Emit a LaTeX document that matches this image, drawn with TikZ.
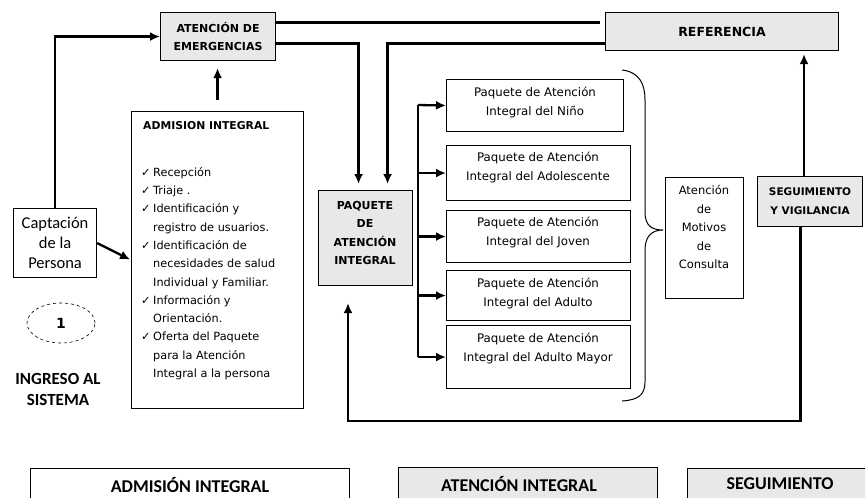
\documentclass[tikz,border=0pt]{standalone}
\usepackage{fontspec}
\setmainfont{DejaVu Sans}
\newfontfamily\calfont{Carlito}
\usetikzlibrary{arrows.meta,shapes.geometric}
\newcommand{\chkmk}{\makebox[12pt][l]{✓}}
\newcommand{\indnt}{\hspace*{12pt}}
\begin{document}
\begin{tikzpicture}[x=1pt,y=-1pt,
  box/.style={draw, line width=1.1pt, inner sep=0pt, anchor=north west, align=center},
  shadebox/.style={box, fill=black!9},
  conn/.style={line width=2.3pt},
  arr/.style={conn, -{Latex[length=10pt,width=9pt]}},
  pkt/.style={font=\fontsize{11.8}{19}\selectfont, align=center, inner sep=0pt},
  hdr/.style={font=\bfseries\fontsize{11}{17.5}\selectfont, align=center},
  big/.style={font=\calfont\bfseries\fontsize{18}{21}\selectfont, align=center, inner sep=0pt}
]
\useasboundingbox (0,0) rectangle (865,498);
\fill[white] (0,0) rectangle (865,498);

% top boxes
\node[shadebox, hdr, minimum width=115pt, minimum height=48pt] (emer) at (160,12) {ATENCIÓN DE\\EMERGENCIAS};
\node[shadebox, font=\bfseries\fontsize{12.5}{14}\selectfont, minimum width=233pt, minimum height=38pt] (ref) at (605,12) {REFERENCIA};

% admision
\node[box, minimum width=172pt, minimum height=297pt] (adm) at (131,111) {};
\node[anchor=west, inner sep=0pt, font=\bfseries\fontsize{10.8}{12}\selectfont] (admh) at (143,126) {ADMISION INTEGRAL};
\node[anchor=north west, align=left, inner sep=0pt, font=\fontsize{11.3}{18.3}\selectfont] (admlist) at (141,167)
{\chkmk Recepción\\
 \chkmk Triaje .\\
 \chkmk Identificación y\\
 \indnt registro de usuarios.\\
 \chkmk Identificación de\\
 \indnt necesidades de salud\\
 \indnt Individual y Familiar.\\
 \chkmk Información y\\
 \indnt Orientación.\\
 \chkmk Oferta del Paquete\\
 \indnt para la Atención\\
 \indnt Integral a la persona};

% captacion
\node[box, font=\calfont\fontsize{16.5}{20}\selectfont, minimum width=83pt, minimum height=69pt] (capt) at (13,208) {Captación\\de la\\Persona};
\node[draw, ellipse, dashed, line width=0.6pt, minimum width=68pt, minimum height=40pt, font=\bfseries\fontsize{14}{15}\selectfont] (one) at (61,323) {1};
\node[big, font=\calfont\bfseries\fontsize{17}{21}\selectfont] (ingreso) at (58,389) {INGRESO AL\\SISTEMA};

% paquete central
\node[shadebox, minimum width=94pt, minimum height=95pt] (paq) at (318,190) {};
\node[hdr, inner sep=0pt, font=\bfseries\fontsize{11}{18.5}\selectfont] (paqt) at (365,233) {PAQUETE\\DE\\ATENCIÓN\\INTEGRAL};

% packages
\node[box, minimum width=177pt, minimum height=52pt] (p1) at (446,79) {};
\node[box, minimum width=184pt, minimum height=55pt] (p2) at (446,145) {};
\node[box, minimum width=184pt, minimum height=52pt] (p3) at (446,210) {};
\node[box, minimum width=184pt, minimum height=50pt] (p4) at (446,270) {};
\node[box, minimum width=184pt, minimum height=63pt] (p5) at (446,325) {};
\node[pkt] (p1t) at (535,103) {Paquete de Atención\\Integral del Niño};
\node[pkt] (p2t) at (538,168) {Paquete de Atención\\Integral del Adolescente};
\node[pkt] (p3t) at (538,233) {Paquete de Atención\\Integral del Joven};
\node[pkt] (p4t) at (538,294) {Paquete de Atención\\Integral del Adulto};
\node[pkt] (p5t) at (538,349) {Paquete de Atención\\Integral del Adulto Mayor};

% motivos and seguimiento
\node[box, minimum width=78pt, minimum height=121pt] (mot) at (665,177) {};
\node[pkt, font=\fontsize{11.5}{18.5}\selectfont] (mott) at (704,227) {Atención\\de\\Motivos\\de\\Consulta};
\node[shadebox, font=\bfseries\fontsize{10.5}{19}\selectfont, minimum width=105pt, minimum height=50pt] (seg) at (757,176) {SEGUIMIENTO\\Y VIGILANCIA};

% brace
\draw[line width=1pt] (622,70) .. controls (640,72) and (645,85) .. (645,100) -- (645,212)
  .. controls (645,226) and (652,230) .. (663,230)
  .. controls (652,230) and (645,236) .. (645,250) -- (645,382)
  .. controls (645,395) and (638,400) .. (622,401);

% bottom boxes
\begin{scope}
\clip (0,0) rectangle (865,498);
\node[box, minimum width=319pt, minimum height=45pt] (b1) at (30,468) {};
\node[shadebox, minimum width=259pt, minimum height=45pt] (b2) at (398,467) {};
\node[shadebox, minimum width=190pt, minimum height=45pt] (b3) at (687,468) {};
\end{scope}
\node[big] (b1t) at (190,485) {ADMISIÓN INTEGRAL};
\node[big] (b2t) at (519,484) {ATENCIÓN INTEGRAL};
\node[big] (b3t) at (780,484) {SEGUIMIENTO};

% connectors
\draw[arr] (capt.north) |- (emer.west);
\draw[arr, shorten >=1pt] (capt.east) -- (adm.west);
\draw[arr, shorten <=11pt, shorten >=7pt] (adm.north) -- (adm.north |- emer.south);
\draw[conn, shorten >=5pt] ([yshift=14pt]emer.east) -- ([yshift=14pt]emer.east -| ref.west);
\draw[arr, shorten >=6pt] ([yshift=-7pt]emer.east) -| ([xshift=-7pt]paq.north);
\draw[arr, shorten >=6pt] ([yshift=-12pt]ref.west) -| ([xshift=22pt]paq.north);
\coordinate (bustop) at (418,105);
\draw[conn] (bustop) -- (bustop |- p5.west);
\draw[arr] (bustop) -- (p1.west);
\draw[arr] (bustop |- p2.west) -- (p2.west);
\draw[arr] (bustop |- p3.west) -- (p3.west);
\draw[arr] (bustop |- p4.west) -- (p4.west);
\draw[arr] (bustop |- p5.west) -- (p5.west);
\draw[arr, shorten >=3pt] ([xshift=-6pt]seg.north) -- ([xshift=-6pt]seg.north |- ref.south);
\coordinate (loopL) at (348,421);
\draw[arr, shorten >=17pt] ([xshift=-9.5pt]seg.south) |- (loopL) -- (loopL |- paq.south);
\end{tikzpicture}
\end{document}
